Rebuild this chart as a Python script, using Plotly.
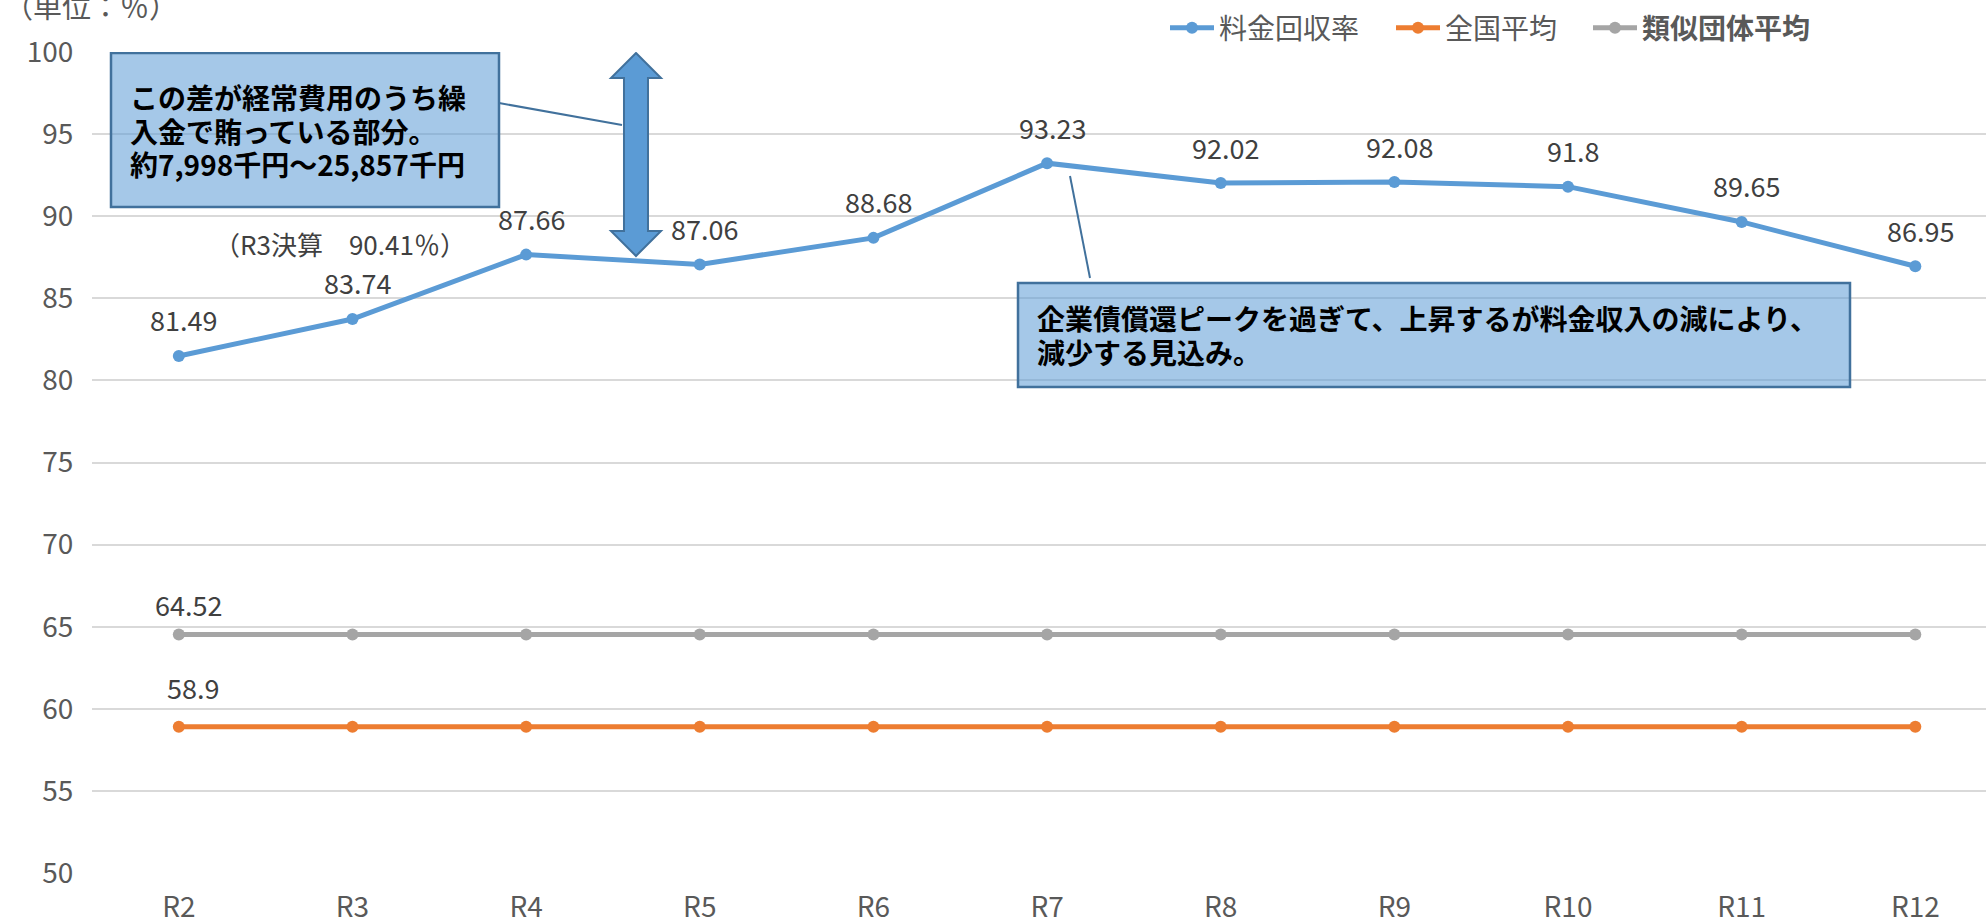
import plotly.graph_objects as go

# ---- data -------------------------------------------------------------
categories = ["R2", "R3", "R4", "R5", "R6", "R7", "R8", "R9", "R10", "R11", "R12"]
recovery_rate = [81.49, 83.74, 87.66, 87.06, 88.68, 93.23, 92.02, 92.08, 91.8, 89.65, 86.95]
national_avg = [58.9, 58.9, 58.9, 58.9, 58.9, 58.9, 58.9, 58.9, 58.9, 58.9, 58.9]
similar_avg = [64.52, 64.52, 64.52, 64.52, 64.52, 64.52, 64.52, 64.52, 64.52, 64.52, 64.52]
y_ticks = [50, 55, 60, 65, 70, 75, 80, 85, 90, 95, 100]

series_names = ["料金回収率", "全国平均", "<b>類似団体平均</b>"]
series_colors = ["#5B9BD5", "#ED7D31", "#A5A5A5"]

# ---- page geometry ------------------------------------------------------
W, H = 1986, 922
ML, MR, MT, MB = 92, 0, 52, 49
X_RANGE = (-0.5, 10.407)
Y_RANGE = (50, 100)

FONT = "Noto Sans CJK JP, Noto Sans, sans-serif"
TICK_COLOR = "#595959"
LABEL_COLOR = "#404040"
BOX_FILL = "rgba(91,155,213,0.55)"
BOX_LINE = "#41719C"


def dx(px):
    """Pixel column -> x data coordinate."""
    return X_RANGE[0] + (px - ML) / (W - ML - MR) * (X_RANGE[1] - X_RANGE[0])


def dy(py):
    """Pixel row -> y data coordinate."""
    return Y_RANGE[1] - (py - MT) / (H - MT - MB) * (Y_RANGE[1] - Y_RANGE[0])


x_idx = list(range(len(categories)))

# one legend per series so each entry can sit at its own position
legend_ids = ["legend", "legend2", "legend3"]
legend_x = [1165, 1391, 1588]

fig = go.Figure()
for name, values, color, lg in zip(series_names,
                                   [recovery_rate, national_avg, similar_avg],
                                   series_colors, legend_ids):
    fig.add_trace(go.Scatter(
        x=x_idx, y=values, name=name, mode="lines+markers",
        line=dict(color=color, width=5),
        marker=dict(color=color, size=12),
        cliponaxis=False, legend=lg,
    ))

annotations = []

# value labels on the recovery-rate line
for i, v in zip(x_idx, recovery_rate):
    annotations.append(dict(x=i, y=v, text=f"{v:g}", showarrow=False,
                            xshift=5, yshift=36,
                            font=dict(family=FONT, size=27, color=LABEL_COLOR)))
# value labels on the first point of the two average lines
annotations.append(dict(x=x_idx[0], y=similar_avg[0], text=f"{similar_avg[0]:g}",
                        showarrow=False, xshift=10, yshift=30,
                        font=dict(family=FONT, size=27, color=LABEL_COLOR)))
annotations.append(dict(x=x_idx[0], y=national_avg[0], text=f"{national_avg[0]:g}",
                        showarrow=False, xshift=14, yshift=39,
                        font=dict(family=FONT, size=27, color=LABEL_COLOR)))

# unit caption
annotations.append(dict(xref="paper", yref="paper",
                        x=(2 - ML) / (W - ML - MR), y=(H - MB - 5) / (H - MT - MB),
                        xanchor="left", yanchor="middle", showarrow=False,
                        text="（単位：％）",
                        font=dict(family=FONT, size=29, color=TICK_COLOR)))

# R3 settlement note
annotations.append(dict(x=dx(340), y=dy(243), text="（R3決算　90.41％）",
                        showarrow=False, xanchor="center", yanchor="middle",
                        font=dict(family=FONT, size=26, color=LABEL_COLOR)))

# callout texts
box1_lines = ["<b>この差が経常費用のうち繰</b>",
              "<b>入金で賄っている部分。</b>",
              "<b>約7,998千円～25,857千円</b>"]
for line, py in zip(box1_lines, [97, 131, 164]):
    annotations.append(dict(x=dx(128), y=dy(py), text=line, showarrow=False,
                            xanchor="left", yanchor="middle",
                            font=dict(family=FONT, size=28, color="#000000")))

box2_lines = ["<b>企業債償還ピークを過ぎて、上昇するが料金収入の減により、</b>",
              "<b>減少する見込み。</b>"]
for line, py in zip(box2_lines, [318, 352]):
    annotations.append(dict(x=dx(1035), y=dy(py), text=line, showarrow=False,
                            xanchor="left", yanchor="middle",
                            font=dict(family=FONT, size=28, color="#000000")))

shapes = []
# callout boxes
shapes.append(dict(type="rect", xref="x", yref="y",
                   x0=dx(111), x1=dx(499), y0=dy(53), y1=dy(207),
                   fillcolor=BOX_FILL, line=dict(color=BOX_LINE, width=2.5)))
shapes.append(dict(type="rect", xref="x", yref="y",
                   x0=dx(1018), x1=dx(1850), y0=dy(283), y1=dy(387),
                   fillcolor=BOX_FILL, line=dict(color=BOX_LINE, width=2.5)))
# leader lines
shapes.append(dict(type="line", xref="x", yref="y",
                   x0=dx(499), y0=dy(103), x1=dx(622), y1=dy(125),
                   line=dict(color=BOX_LINE, width=2)))
shapes.append(dict(type="line", xref="x", yref="y",
                   x0=dx(1070), y0=dy(176), x1=dx(1090), y1=dy(278),
                   line=dict(color=BOX_LINE, width=2)))

# double-headed block arrow
cx = dx(636)
hw = dx(636 + 25) - cx
sw = dx(636 + 12) - cx
top, bot = dy(53), dy(256)
hl = dy(53) - dy(78)
pts = [(cx, top), (cx + hw, top - hl), (cx + sw, top - hl), (cx + sw, bot + hl),
       (cx + hw, bot + hl), (cx, bot), (cx - hw, bot + hl), (cx - sw, bot + hl),
       (cx - sw, top - hl), (cx - hw, top - hl)]
path = "M " + " L ".join(f"{px:.4f},{py:.4f}" for px, py in pts) + " Z"
shapes.append(dict(type="path", xref="x", yref="y", path=path,
                   fillcolor="#5B9BD5", line=dict(color=BOX_LINE, width=2)))

legend_style = dict(orientation="h", xref="container", yref="container",
                    y=1 - 28 / H, xanchor="left", yanchor="middle",
                    font=dict(family=FONT, size=28, color=TICK_COLOR),
                    bgcolor="rgba(0,0,0,0)", borderwidth=0, itemwidth=44)

fig.update_layout(
    width=W, height=H,
    margin=dict(l=ML, r=MR, t=MT, b=MB, pad=0, autoexpand=False),
    paper_bgcolor="white", plot_bgcolor="white",
    font=dict(family=FONT, color=TICK_COLOR),
    showlegend=True,
    legend=dict(x=legend_x[0] / W, **legend_style),
    legend2=dict(x=legend_x[1] / W, **legend_style),
    legend3=dict(x=legend_x[2] / W, **legend_style),
    xaxis=dict(range=list(X_RANGE), tickmode="array", tickvals=x_idx,
               ticktext=categories, showgrid=False, zeroline=False,
               showline=False, ticks="outside", ticklen=9,
               tickcolor="rgba(0,0,0,0)",
               tickfont=dict(family=FONT, size=28, color=TICK_COLOR)),
    yaxis=dict(range=list(Y_RANGE), tickmode="array", tickvals=y_ticks,
               showgrid=True, gridcolor="#D9D9D9", gridwidth=2,
               zeroline=False, showline=False, ticks="outside", ticklen=12,
               tickcolor="rgba(0,0,0,0)",
               tickfont=dict(family=FONT, size=28, color=TICK_COLOR)),
    annotations=annotations,
    shapes=shapes,
)

fig.write_html("out.html")
